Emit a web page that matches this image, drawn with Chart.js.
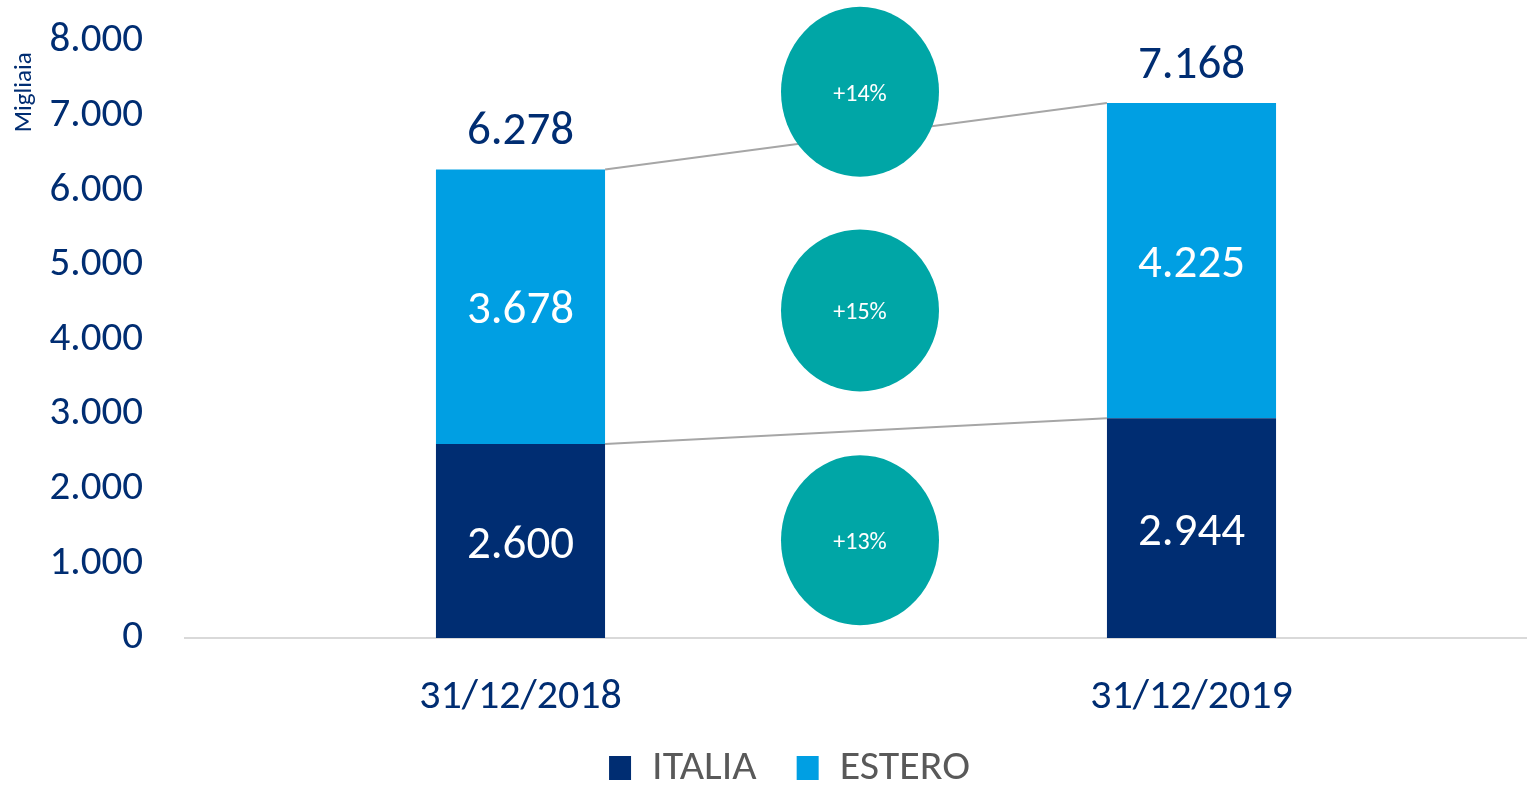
<!DOCTYPE html>
<html>
<head>
<meta charset="utf-8">
<script src="https://cdn.jsdelivr.net/npm/chart.js@4.4.1/dist/chart.umd.min.js"></script>
<style>
  html, body { margin: 0; padding: 0; background: #fff; }
  #wrap { width: 1527px; height: 787px; }
</style>
</head>
<body>
<div id="wrap"><canvas id="chart" width="1527" height="787"></canvas></div>
<script>
// Values in thousands (Migliaia)
const categories = ["31/12/2018", "31/12/2019"];
const italia = [2600, 2944];
const estero = [3678, 4225];
const totals = [6278, 7168];
const growthLabels = ["+14%", "+15%", "+13%"];
const yTicks = [0, 1000, 2000, 3000, 4000, 5000, 6000, 7000, 8000];

const FONT = "Carlito, Lato, 'Open Sans', sans-serif";
const NAVY = "#002d72";
const BLUE = "#009fe3";
const TEAL = "#00a6a6";

// 8.000 style thousands separator
function fmt(v) {
  return String(v).replace(/\B(?=(\d{3})+(?!\d))/g, ".");
}

// Value labels, connector lines and growth bubbles
const overlayPlugin = {
  id: "overlay",
  afterLayout(chart) {
    // nudge the legend to where the original has it (and let its box grow)
    const lg = chart.legend;
    if (lg) {
      lg.top -= 11;
      lg.height = 96;
      lg.bottom = lg.top + lg.height;
      lg.left += 26; lg.right += 26;
    }
  },
  afterDatasetsDraw(chart) {
    const ctx = chart.ctx;
    const xs = chart.scales.x;
    const ys = chart.scales.y;
    const low = chart.getDatasetMeta(0).data;
    const high = chart.getDatasetMeta(1).data;

    ctx.save();
    ctx.textAlign = "center";
    ctx.textBaseline = "middle";

    // connector lines between bar tops
    ctx.strokeStyle = "#a6a6a6";
    ctx.lineWidth = 2;
    [low, high].forEach((bars) => {
      const a = bars[0], b = bars[1];
      ctx.beginPath();
      ctx.moveTo(a.x + a.width / 2, a.y);
      ctx.lineTo(b.x - b.width / 2, b.y);
      ctx.stroke();
    });

    // values inside the segments
    ctx.font = "47px " + FONT;
    ctx.fillStyle = "#ffffff";
    [low, high].forEach((bars, d) => {
      bars.forEach((bar, i) => {
        const v = chart.data.datasets[d].data[i];
        ctx.fillText(fmt(v), bar.x, (bar.y + bar.base) / 2 + 5);
      });
    });

    // totals above the bars
    ctx.fillStyle = NAVY;
    high.forEach((bar, i) => {
      ctx.fillText(fmt(totals[i]), bar.x, bar.y - 37);
    });

    // growth bubbles half way between the two dates
    const cx = (xs.getPixelForValue(0) + xs.getPixelForValue(1)) / 2 + 4;
    const anchors = [7320, 4390, 1310]; // where each bubble sits on the y axis
    ctx.font = "24px " + FONT;
    anchors.forEach((val, i) => {
      const cy = ys.getPixelForValue(val);
      ctx.fillStyle = TEAL;
      ctx.beginPath();
      ctx.ellipse(cx, cy, 79, i === 1 ? 81 : 85, 0, 0, Math.PI * 2);
      ctx.fill();
      ctx.fillStyle = "#ffffff";
      ctx.fillText(growthLabels[i], cx, cy + 3);
    });
    ctx.restore();
  },
};

const ctx = document.getElementById("chart").getContext("2d");
const myChart = new Chart(ctx, {
  type: "bar",
  data: {
    labels: categories,
    datasets: [
      {
        label: "ITALIA",
        data: italia,
        backgroundColor: NAVY,
        barPercentage: 1,
        categoryPercentage: 0.252,
      },
      {
        label: "ESTERO",
        data: estero,
        backgroundColor: BLUE,
        barPercentage: 1,
        categoryPercentage: 0.252,
      },
    ],
  },
  options: {
    responsive: false,
    animation: false,
    layout: { padding: { top: 41, right: 0, left: 0, bottom: 0 } },
    plugins: {
      tooltip: { enabled: false },
      legend: {
        position: "bottom",
        maxHeight: 69,
        labels: {
          color: "#595959",
          font: { family: FONT, size: 42 },
          boxWidth: 22,
          boxHeight: 24,
          padding: 40,
        },
      },
    },
    scales: {
      x: {
        stacked: true,
        grid: { display: false, drawTicks: false },
        border: { color: "#d9d9d9", width: 2 },
        ticks: { color: NAVY, font: { family: FONT, size: 42 }, padding: 34 },
        afterFit: (s) => { s.height = 80; },
      },
      y: {
        stacked: true,
        min: 0,
        max: 8000,
        grid: { display: false, drawTicks: false },
        border: { display: false },
        afterBuildTicks: (s) => { s.ticks = yTicks.map((v) => ({ value: v })); },
        ticks: {
          color: NAVY,
          font: { family: FONT, size: 41 },
          padding: 42,
          callback: (v) => fmt(v),
        },
        title: {
          display: true,
          text: "Migliaia  ",
          align: "end",
          color: NAVY,
          font: { family: FONT, size: 25 },
          padding: { top: 10, bottom: 0 },
        },
        afterFit: (s) => {
          s.width = 185;
          s.paddingTop = 0;
          s.paddingBottom = 0;
        },
      },
    },
  },
  plugins: [overlayPlugin],
});
</script>
</body>
</html>
